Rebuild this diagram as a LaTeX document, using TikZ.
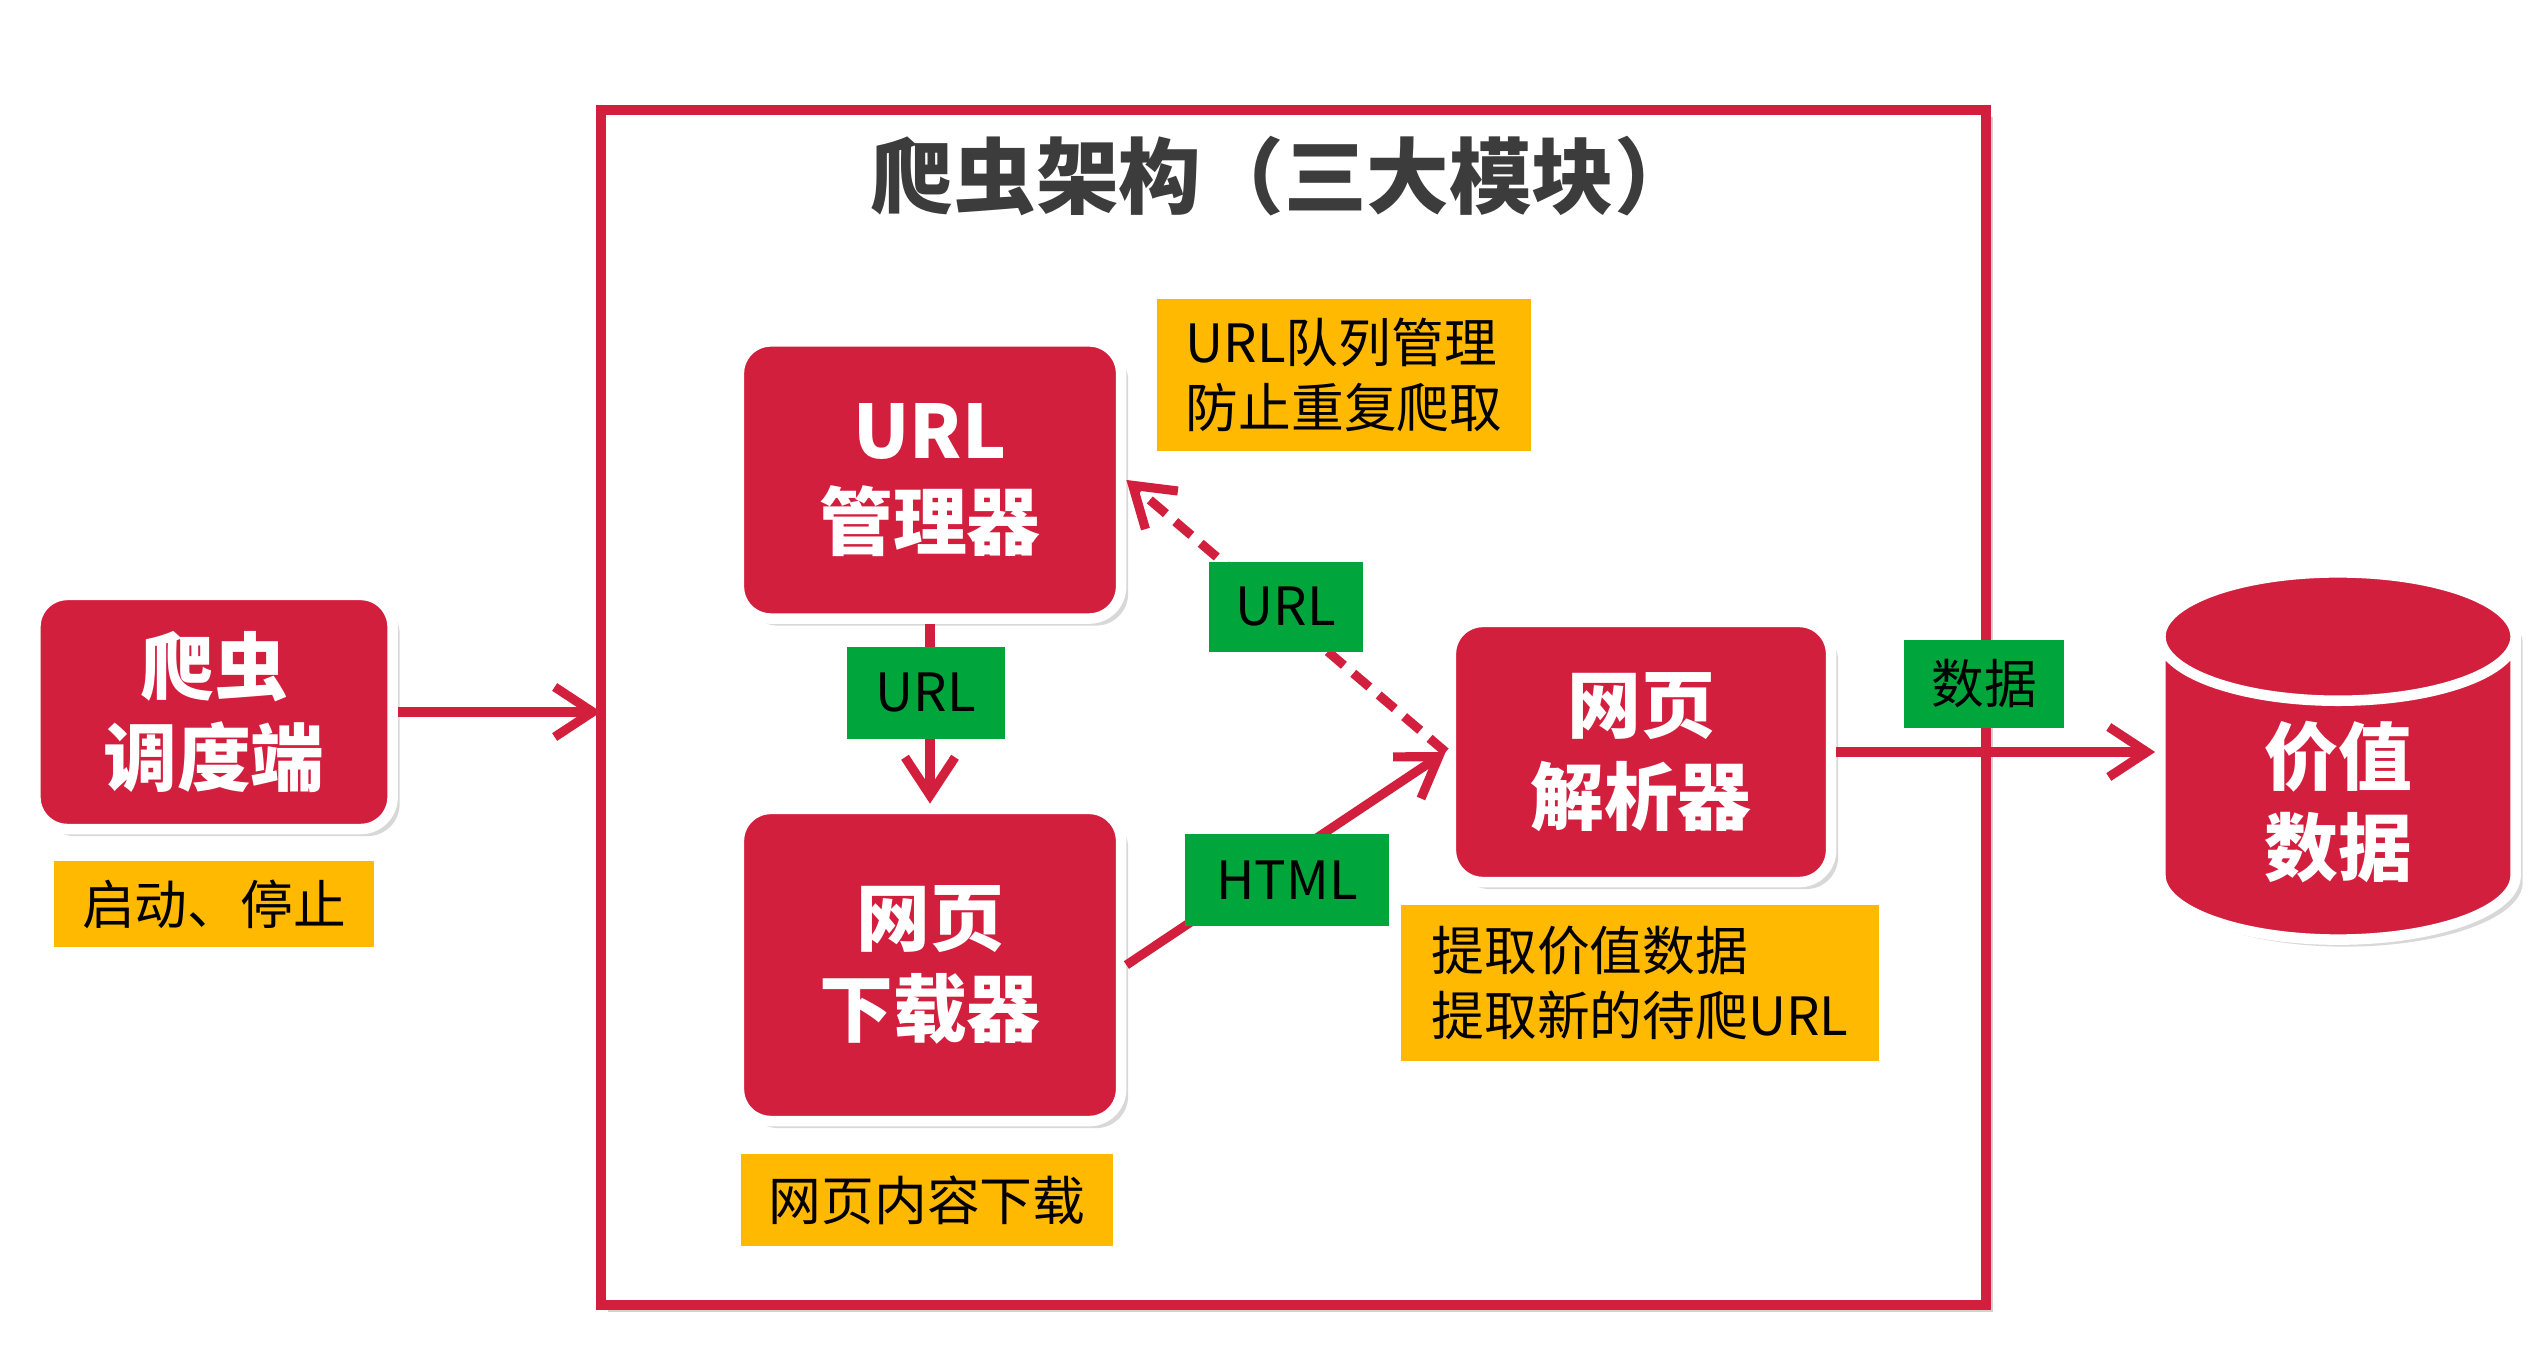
\documentclass[tikz,border=0pt]{standalone}
\usepackage{fontspec}
\setmainfont{Noto Sans CJK SC}
\usetikzlibrary{positioning, arrows.meta, shapes.geometric, shadows}

\definecolor{crimson}{HTML}{D31F3E}
\definecolor{amber}{HTML}{FFB900}
\definecolor{leaf}{HTML}{00A63C}
\definecolor{ink}{HTML}{3C3C3C}

\tikzset{
  modbox/.style={rectangle, rounded corners=0.32cm, fill=crimson, draw=white, line width=3pt,
    text=white, font=\fontsize{21}{26}\selectfont\bfseries, align=center,
    drop shadow={shadow xshift=2pt, shadow yshift=-2pt, opacity=0.3}},
  note/.style={rectangle, fill=amber, text=black, font=\fontsize{15}{18.5}\selectfont,
    align=left, inner sep=0pt},
  tag/.style={rectangle, fill=leaf, text=black, font=\fontsize{15}{18}\selectfont, inner sep=0pt},
  flow/.style={->, crimson, line width=2.6pt},
}

\begin{document}
\begin{tikzpicture}[x=0.01cm, y=-0.01cm, >={Straight Barb[length=3.8mm, width=5mm]}]
  \useasboundingbox[fill=white] (0,0) rectangle (2548,1368);

  % --- 外框 ---
  \draw[crimson, line width=2.8pt, fill=white,
    drop shadow={shadow xshift=2pt, shadow yshift=-2pt, opacity=0.35}]
    (601,110) rectangle (1986,1305);
  \node[text=ink, font=\fontsize{23.5}{26}\selectfont\bfseries] (title) at (1284,176) {爬虫架构（三大模块）};

  % --- 模块 ---
  \node[modbox, minimum width=3.57cm, minimum height=2.34cm] (sched) at (214,712) {爬虫\\调度端};
  \node[modbox, minimum width=3.82cm, minimum height=2.77cm] (urlmgr) at (930,480) {URL\\管理器};
  \node[modbox, minimum width=3.82cm, minimum height=3.12cm] (dload) at (930,965) {网页\\下载器};
  \node[modbox, minimum width=3.80cm, minimum height=2.60cm] (parser) at (1641,752) {网页\\解析器};
  \node[cylinder, shape border rotate=90, aspect=0.75, fill=crimson, draw=white, line width=3pt,
    minimum width=3.55cm, minimum height=3.67cm, text=white, anchor=shape center,
    font=\fontsize{21}{26}\selectfont\bfseries, align=center,
    drop shadow={shadow xshift=2pt, shadow yshift=-2pt, opacity=0.3}] (store) at (2338,756) {价值\\数据};

  % --- 说明 ---
  \node[note, minimum width=3.20cm, minimum height=0.86cm, align=center] (schednote) at (214,904) {启动、停止};
  \node[note, minimum width=3.74cm, minimum height=1.51cm, inner xsep=0.27cm] (urlnote) at (1344,375) {URL队列管理\\防止重复爬取};
  \node[note, minimum width=3.71cm, minimum height=0.91cm, align=center] (dloadnote) at (927,1200) {网页内容下载};
  \node[note, minimum width=4.78cm, minimum height=1.55cm, inner xsep=0.27cm] (parsenote) at (1640,983) {提取价值数据\\提取新的待爬URL};

  % --- 连线 ---
  \draw[flow] (sched.east) -- (601,712);
  \draw[flow] (urlmgr.south) -- (dload.north);
  \draw[flow, dash pattern=on 6pt off 3.5pt] (parser.west) -- (urlmgr.east);
  \draw[flow] (dload.east) -- (parser.west);
  \draw[flow] (parser.east) -- (parser.east -| store.west);

  % --- 标签 ---
  \node[tag, minimum width=1.57cm, minimum height=0.92cm] (urltag) at (926,693) {URL};
  \node[tag, minimum width=1.54cm, minimum height=0.90cm] (backtag) at (1286,607) {URL};
  \node[tag, minimum width=2.04cm, minimum height=0.91cm] (htmltag) at (1287,880) {HTML};
  \node[tag, minimum width=1.59cm, minimum height=0.88cm] (datatag) at (1984,684) {数据};
\end{tikzpicture}
\end{document}
